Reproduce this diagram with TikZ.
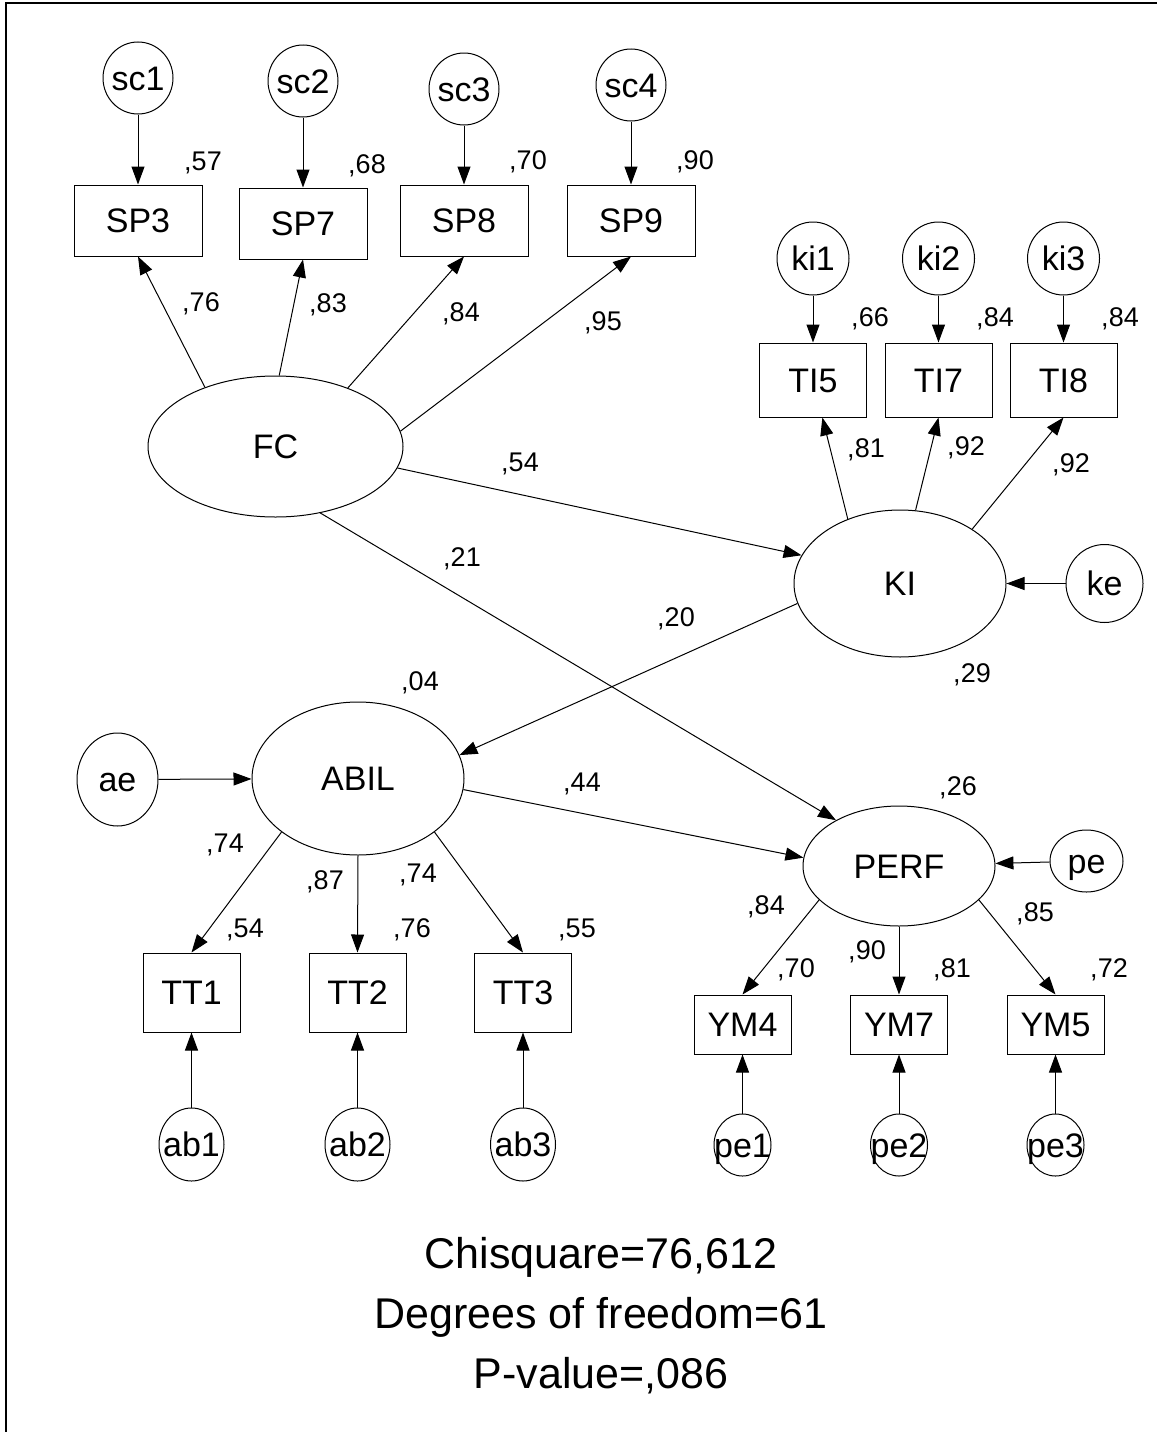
\documentclass[tikz,border=0pt]{standalone}
\usepackage{fontspec}
\setmainfont{Liberation Sans}
\usepackage{tikz}
\usetikzlibrary{shapes.geometric, arrows.meta, positioning}
\tikzstyle{arrow} = [line width=1pt,-{Triangle[length=18pt,width=13pt]}]
\tikzstyle{indic} = [rectangle, draw=black, line width=1pt, inner sep=0pt, font=\fontsize{34}{40}\selectfont, text height=24pt, text depth=0pt]
\tikzstyle{latent} = [ellipse, draw=black, line width=1pt, inner sep=0pt, font=\fontsize{34}{40}\selectfont, text height=24pt, text depth=0pt]
\tikzstyle{resid} = [ellipse, draw=black, line width=1pt, inner sep=0pt, font=\fontsize{34}{40}\selectfont, text height=24pt, text depth=0pt]
\tikzstyle{coef} = [inner sep=0pt, font=\fontsize{27}{32}\selectfont, text height=19pt, text depth=0pt]
\tikzstyle{stat} = [inner sep=0pt, font=\fontsize{43}{50}\selectfont, text height=31pt, text depth=0pt]
\newcommand{\nm}[1]{\makebox[0pt]{#1}}

\begin{document}
\begin{tikzpicture}[x=1pt, y=-1pt]
    \useasboundingbox (0,0) rectangle (1157,1432);
    \draw[line width=2.5pt] (6,1432) |- (1157,3);

    % FC block
    \node (SP3) [indic, minimum width=128pt, minimum height=71pt] at (138,220.5) {SP3};
    \node (SP7) [indic, minimum width=128pt, minimum height=71pt] at (303,223.5) {SP7};
    \node (SP8) [indic, minimum width=128pt, minimum height=71pt] at (464,220.5) {SP8};
    \node (SP9) [indic, minimum width=128pt, minimum height=71pt] at (631,220.5) {SP9};
    \node (sc1) [resid, minimum width=70pt, minimum height=72pt, above=70pt of SP3] {\nm{sc1}};
    \node (sc2) [resid, minimum width=70pt, minimum height=72pt, above=70pt of SP7] {\nm{sc2}};
    \node (sc3) [resid, minimum width=70pt, minimum height=72pt, above=59pt of SP8] {\nm{sc3}};
    \node (sc4) [resid, minimum width=70pt, minimum height=72pt, above=63pt of SP9] {\nm{sc4}};
    \node (FC) [latent, minimum width=255pt, minimum height=141pt] at (275.5,446.5) {\nm{FC}};

    % KI block
    \node (KI) [latent, minimum width=212pt, minimum height=147pt] at (900,583.5) {\nm{KI}};
    \node (TI5) [indic, minimum width=107pt, minimum height=74pt] at (813,380) {TI5};
    \node (TI7) [indic, minimum width=107pt, minimum height=74pt] at (938.5,380) {TI7};
    \node (TI8) [indic, minimum width=107pt, minimum height=74pt] at (1063.5,380) {TI8};
    \node (ki1) [resid, minimum width=72pt, minimum height=73pt, above=47pt of TI5] {\nm{ki1}};
    \node (ki2) [resid, minimum width=72pt, minimum height=73pt, above=47pt of TI7] {\nm{ki2}};
    \node (ki3) [resid, minimum width=72pt, minimum height=73pt, above=47pt of TI8] {\nm{ki3}};
    \node (ke) [resid, minimum width=77pt, minimum height=78pt] at (1104.5,583.5) {\nm{ke}};

    % ABIL block
    \node (ABIL) [latent, minimum width=212pt, minimum height=153pt] at (358,778.5) {\nm{ABIL}};
    \node (ae) [resid, minimum width=81pt, minimum height=93pt] at (117.5,779.5) {\nm{ae}};
    \node (TT1) [indic, minimum width=97pt, minimum height=79pt] at (191.5,992.5) {TT1};
    \node (TT2) [indic, minimum width=97pt, minimum height=79pt] at (357.5,992.5) {TT2};
    \node (TT3) [indic, minimum width=97pt, minimum height=79pt] at (523,992.5) {TT3};
    \node (ab1) [resid, minimum width=65pt, minimum height=73pt, below=75pt of TT1] {\nm{ab1}};
    \node (ab2) [resid, minimum width=65pt, minimum height=73pt, below=75pt of TT2] {\nm{ab2}};
    \node (ab3) [resid, minimum width=65pt, minimum height=73pt, below=75pt of TT3] {\nm{ab3}};

    % PERF block
    \node (PERF) [latent, minimum width=192pt, minimum height=120pt] at (899,866) {\nm{PERF}};
    \node (pe) [resid, minimum width=73pt, minimum height=62pt] at (1086.5,861) {\nm{pe}};
    \node (YM4) [indic, minimum width=97pt, minimum height=59pt] at (742.5,1024.5) {YM4};
    \node (YM7) [indic, minimum width=97pt, minimum height=59pt] at (899,1024.5) {YM7};
    \node (YM5) [indic, minimum width=97pt, minimum height=59pt] at (1055.5,1024.5) {YM5};
    \node (pe1) [resid, minimum width=57pt, minimum height=62pt, below=59pt of YM4] {\nm{pe1}};
    \node (pe2) [resid, minimum width=57pt, minimum height=62pt, below=59pt of YM7] {\nm{pe2}};
    \node (pe3) [resid, minimum width=57pt, minimum height=62pt, below=59pt of YM5] {\nm{pe3}};

    % Paths
    \draw [arrow] (sc1) -- (SP3);
    \draw [arrow] (sc2) -- (SP7);
    \draw [arrow] (sc3) -- (SP8);
    \draw [arrow] (sc4) -- (SP9);
    \draw [arrow] (FC.140) -- (SP3.south);
    \draw [arrow] (FC.87) -- (SP7.south);
    \draw [arrow] (FC.39) -- (SP8.south);
    \draw [arrow] (FC.7.5) -- (SP9.south);
    \draw [arrow] (FC.-10) -- (KI.164);
    \draw [arrow] (FC.-56) -- (PERF.144);
    \draw [arrow] (ki1) -- (TI5);
    \draw [arrow] (ki2) -- (TI7);
    \draw [arrow] (ki3) -- (TI8);
    \draw [arrow] (KI.129) -- (TI5);
    \draw [arrow] (KI.78) -- (TI7.south);
    \draw [arrow] (KI.37) -- (TI8.south);
    \draw [arrow] (ke) -- (KI);
    \draw [arrow] (KI.191) -- (ABIL.13);
    \draw [arrow] (ae) -- (ABIL);
    \draw [arrow] (ABIL.215) -- (TT1.north);
    \draw [arrow] (ABIL.south) -- (TT2.north);
    \draw [arrow] (ABIL.-35) -- (TT3.north);
    \draw [arrow] (ab1) -- (TT1);
    \draw [arrow] (ab2) -- (TT2);
    \draw [arrow] (ab3) -- (TT3);
    \draw [arrow] (ABIL.-6) -- (PERF.175);
    \draw [arrow] (pe) -- (PERF);
    \draw [arrow] (PERF.203.5) -- (YM4.north);
    \draw [arrow] (PERF.south) -- (YM7.north);
    \draw [arrow] (PERF.-23.6) -- (YM5.north);
    \draw [arrow] (pe1) -- (YM4);
    \draw [arrow] (pe2) -- (YM7);
    \draw [arrow] (pe3) -- (YM5);

    % Estimates
    \node (rSP3) [coef] at (203,161) {,57};
    \node (rSP7) [coef] at (367,164) {,68};
    \node (rSP8) [coef] at (528,160) {,70};
    \node (rSP9) [coef] at (695,160) {,90};
    \node (lSP3) [coef] at (201,302) {,76};
    \node (lSP7) [coef] at (328,303) {,83};
    \node (lSP8) [coef] at (461,312) {,84};
    \node (lSP9) [coef] at (603,321) {,95};
    \node (rTI5) [coef] at (870,317) {,66};
    \node (rTI7) [coef] at (995,317) {,84};
    \node (rTI8) [coef] at (1120,317) {,84};
    \node (lTI5) [coef] at (866,448) {,81};
    \node (lTI7) [coef] at (966,446) {,92};
    \node (lTI8) [coef] at (1071,463) {,92};
    \node (pKI) [coef] at (520,462) {,54};
    \node (pPERFa) [coef] at (462,557) {,21};
    \node (pABIL) [coef] at (676,617) {,20};
    \node (rKI) [coef] at (972,673) {,29};
    \node (rABIL) [coef] at (420,681) {,04};
    \node (pPERFb) [coef] at (582,782) {,44};
    \node (rPERF) [coef] at (958,786) {,26};
    \node (lTT1) [coef] at (225,843) {,74};
    \node (lTT2) [coef] at (325,880) {,87};
    \node (lTT3) [coef] at (418,873) {,74};
    \node (rTT1) [coef] at (245,928) {,54};
    \node (rTT2) [coef] at (412,928) {,76};
    \node (rTT3) [coef] at (577,928) {,55};
    \node (lYM4) [coef] at (766,905) {,84};
    \node (lYM7) [coef] at (867,950) {,90};
    \node (lYM5) [coef] at (1035,912) {,85};
    \node (rYM4) [coef] at (796,968) {,70};
    \node (rYM7) [coef] at (952,968) {,81};
    \node (rYM5) [coef] at (1109,968) {,72};

    % Fit
    \node (chi) [stat] at (601,1253) {Chisquare=76,612};
    \node (df) [stat] at (601,1313) {Degrees of freedom=61};
    \node (pval) [stat] at (601,1373) {P-value=,086};
\end{tikzpicture}
\end{document}
